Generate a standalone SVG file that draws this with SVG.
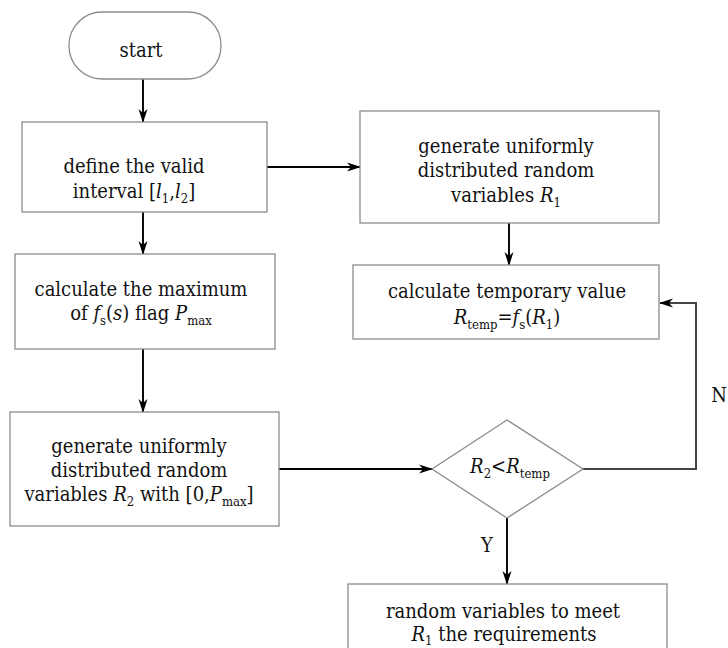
<svg xmlns="http://www.w3.org/2000/svg" width="728" height="648" viewBox="0 0 728 648">
<style>
.box{fill:#fff;stroke:#8c8c8c;stroke-width:1.3}
.t{font-family:"DejaVu Serif Condensed","DejaVu Serif",serif;font-stretch:condensed;font-size:20px;fill:#111;text-anchor:middle}
.i{font-style:italic}
.s{font-size:13px}
.c{fill:none;stroke:#000;stroke-width:1.9}
.fb{fill:none;stroke:#444;stroke-width:2}
</style>
<defs>
<marker id="ah" viewBox="0 0 14 10" refX="13" refY="5" markerWidth="14" markerHeight="10" markerUnits="userSpaceOnUse" orient="auto">
<path d="M0,0.5 L14,5 L0,9.5 L4,5 z" fill="#000"/>
</marker>
</defs>
<g id="connectors">
<line class="c" x1="143" y1="79" x2="143" y2="122" marker-end="url(#ah)"/>
<line class="c" x1="267" y1="167" x2="360" y2="167" marker-end="url(#ah)"/>
<line class="c" x1="509" y1="223" x2="509" y2="265" marker-end="url(#ah)"/>
<line class="c" x1="143" y1="212" x2="143" y2="254" marker-end="url(#ah)"/>
<line class="c" x1="143" y1="349" x2="143" y2="412" marker-end="url(#ah)"/>
<line class="c" x1="279" y1="469" x2="432" y2="469" marker-end="url(#ah)"/>
<line class="c" x1="507" y1="518" x2="507" y2="584" marker-end="url(#ah)"/>
<polyline class="fb" points="583,469 696,469 696,303 660,303" marker-end="url(#ah)"/>
<text class="t" x="487" y="552">Y</text>
<text class="t" x="727" y="402" style="text-anchor:end">N</text>
</g>
<g id="start">
<rect class="box" x="69" y="12" width="152" height="67" rx="33" ry="33"/>
<text class="t" x="141" y="57">start</text>
</g>
<g id="define">
<rect class="box" x="22" y="122" width="245" height="90"/>
<text class="t" x="134" y="173">define the valid</text>
<text class="t" x="134" y="198">interval [<tspan class="i">l</tspan><tspan class="s" dy="5">1</tspan><tspan dy="-5">,</tspan><tspan class="i">l</tspan><tspan class="s" dy="5">2</tspan><tspan dy="-5">]</tspan></text>
</g>
<g id="genR1">
<rect class="box" x="360" y="111" width="299" height="112"/>
<text class="t" x="506" y="153">generate uniformly</text>
<text class="t" x="506" y="177">distributed random</text>
<text class="t" x="506" y="202">variables <tspan class="i">R</tspan><tspan class="s" dy="5">1</tspan></text>
</g>
<g id="temp">
<rect class="box" x="353" y="265" width="306" height="74"/>
<text class="t" x="507" y="298">calculate temporary value</text>
<text class="t" x="507" y="324"><tspan class="i">R</tspan><tspan class="s" dy="5">temp</tspan><tspan dy="-5">=</tspan><tspan class="i">f</tspan><tspan class="s" dy="5">s</tspan><tspan dy="-5">(</tspan><tspan class="i">R</tspan><tspan class="s" dy="5">1</tspan><tspan dy="-5">)</tspan></text>
</g>
<g id="maximum">
<rect class="box" x="15" y="254" width="260" height="95"/>
<text class="t" x="141" y="296">calculate the maximum</text>
<text class="t" x="141" y="320">of <tspan class="i">f</tspan><tspan class="s" dy="5">s</tspan><tspan dy="-5">(</tspan><tspan class="i">s</tspan><tspan>) flag </tspan><tspan class="i">P</tspan><tspan class="s" dy="5">max</tspan></text>
</g>
<g id="genR2">
<rect class="box" x="10" y="412" width="269" height="114"/>
<text class="t" x="139" y="453">generate uniformly</text>
<text class="t" x="139" y="477">distributed random</text>
<text class="t" x="139" y="501">variables <tspan class="i">R</tspan><tspan class="s" dy="5">2</tspan><tspan dy="-5"> with [0,</tspan><tspan class="i">P</tspan><tspan class="s" dy="5">max</tspan><tspan dy="-5">]</tspan></text>
</g>
<g id="decision">
<polygon class="box" points="507,420 583,469 507,518 432,469"/>
<text class="t" x="510" y="473"><tspan class="i">R</tspan><tspan class="s" dy="5">2</tspan><tspan dy="-5">&lt;</tspan><tspan class="i">R</tspan><tspan class="s" dy="5">temp</tspan></text>
</g>
<g id="result">
<rect class="box" x="348" y="584" width="319" height="80"/>
<text class="t" x="503" y="618">random variables to meet</text>
<text class="t" x="504" y="641"><tspan class="i">R</tspan><tspan class="s" dy="4">1</tspan><tspan dy="-4"> the requirements</tspan></text>
</g>
</svg>
